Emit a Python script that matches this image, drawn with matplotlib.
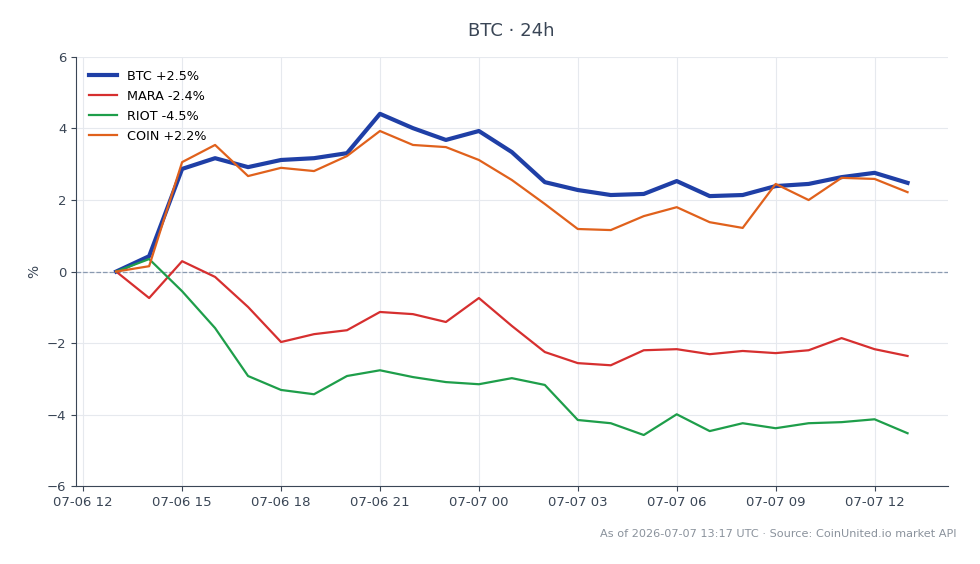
import datetime
import matplotlib
matplotlib.use('Agg')
import matplotlib.pyplot as plt
import matplotlib.dates as mdates

start = datetime.datetime(2026, 7, 6, 13)
times = [start + datetime.timedelta(hours=i) for i in range(25)]

btc = [0, 0.43, 2.87, 3.17, 2.92, 3.12, 3.17, 3.31, 4.41, 4.01, 3.68, 3.93, 3.34,
       2.50, 2.28, 2.14, 2.17, 2.53, 2.11, 2.14, 2.39, 2.45, 2.64, 2.76, 2.48]
mara = [0, -0.74, 0.29, -0.15, -0.99, -1.97, -1.75, -1.64, -1.13, -1.19, -1.41, -0.74, -1.52,
        -2.25, -2.56, -2.62, -2.20, -2.17, -2.31, -2.22, -2.28, -2.20, -1.86, -2.17, -2.36]
riot = [0, 0.35, -0.55, -1.58, -2.92, -3.31, -3.43, -2.92, -2.76, -2.95, -3.09, -3.15, -2.98,
        -3.17, -4.15, -4.24, -4.57, -3.99, -4.46, -4.24, -4.38, -4.24, -4.21, -4.13, -4.52]
coin = [0, 0.15, 3.06, 3.54, 2.67, 2.90, 2.81, 3.23, 3.93, 3.54, 3.48, 3.12, 2.56,
        1.89, 1.19, 1.16, 1.55, 1.80, 1.38, 1.22, 2.45, 2.00, 2.62, 2.59, 2.22]

series = [
    ('BTC', btc, '#1f3fa6', 3.0),
    ('MARA', mara, '#d62f2f', 1.6),
    ('RIOT', riot, '#1e9e4a', 1.6),
    ('COIN', coin, '#e0611c', 1.6),
]

axis_col = '#3a4656'
fig = plt.figure(figsize=(9.8, 5.64), dpi=100)
ax = fig.add_axes([0.0776, 0.138, 0.8894, 0.761])

for name, vals, col, lw in series:
    ax.plot(times, vals, color=col, linewidth=lw, label=f'{name} {vals[-1]:+.1f}%', zorder=3)

ax.axhline(0, color='#8a9ab0', linestyle='--', linewidth=0.9, zorder=1)

ax.set_xlim(datetime.datetime(2026, 7, 6, 11, 47), datetime.datetime(2026, 7, 7, 14, 13))
ax.set_ylim(-6, 6)
ax.set_yticks([-6, -4, -2, 0, 2, 4, 6])
ax.xaxis.set_major_locator(mdates.HourLocator(byhour=range(0, 24, 3)))
ax.xaxis.set_major_formatter(mdates.DateFormatter('%m-%d %H'))
ax.set_ylabel('%', color=axis_col, fontsize=10)

ax.grid(True, color='#e6e9ee', linewidth=0.8, zorder=0)
ax.set_axisbelow(True)
for s in ['top', 'right']:
    ax.spines[s].set_visible(False)
for s in ['left', 'bottom']:
    ax.spines[s].set_color(axis_col)
ax.tick_params(colors=axis_col, labelsize=9.5)

ax.legend(loc='upper left', frameon=False, fontsize=9.2, handlelength=2.2,
          borderaxespad=0.6, labelspacing=0.55)

fig.text(0.522, 0.945, 'BTC · 24h', ha='center', va='center', fontsize=13, color=axis_col)
fig.text(0.976, 0.053, 'As of 2026-07-07 13:17 UTC · Source: CoinUnited.io market API',
         ha='right', va='center', fontsize=8.1, color='#8a929c')

fig.savefig('out.png', dpi=100)
